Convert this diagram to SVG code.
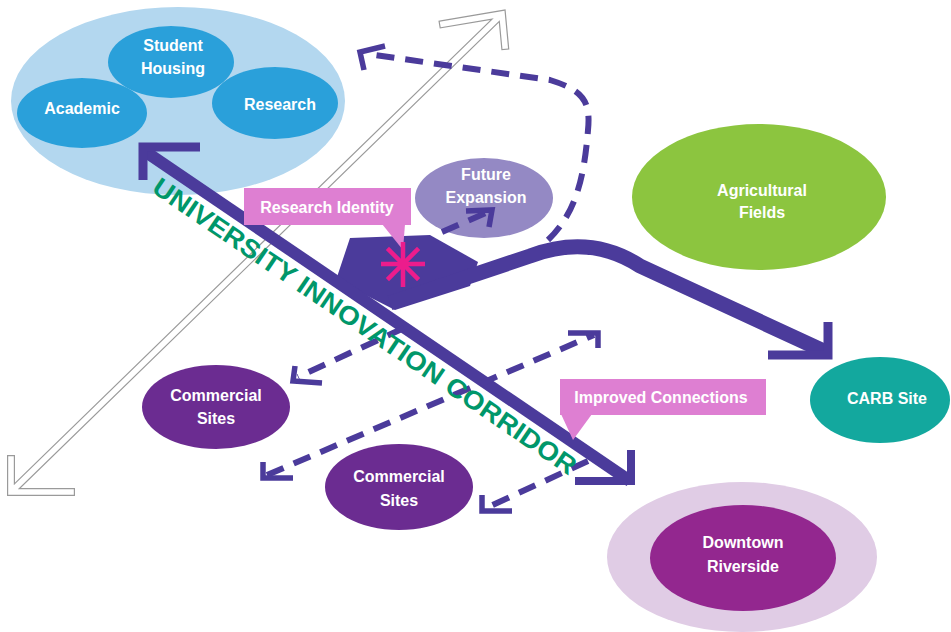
<svg xmlns="http://www.w3.org/2000/svg" width="951" height="632" viewBox="0 0 951 632">
<defs>
<style>
.lbl{font-family:"Liberation Sans",Arial,sans-serif;font-weight:bold;font-size:16px;fill:#ffffff;text-anchor:middle}
.dash{fill:none;stroke:#4B3B9B;stroke-width:6;stroke-dasharray:18 11}
.head{fill:none;stroke:#4B3B9B;stroke-width:5.5;stroke-linejoin:miter;stroke-miterlimit:10}
.solid{fill:none;stroke:#4B3B9B;stroke-linejoin:miter;stroke-miterlimit:10}
.hollow{fill:none;stroke-linejoin:miter;stroke-miterlimit:10;stroke-linecap:square}
</style>
</defs>
<rect width="951" height="632" fill="#ffffff"/>

<g id="campus">
<ellipse cx="178" cy="101" rx="167" ry="94" fill="#B3D7EF"/>
<g id="student-housing"><ellipse cx="171" cy="62" rx="63" ry="36" fill="#2AA0DA"/><text class="lbl" x="173" y="51">Student</text><text class="lbl" x="173" y="74">Housing</text></g>
<g id="academic"><ellipse cx="82" cy="113" rx="65" ry="35" fill="#2AA0DA"/><text class="lbl" x="82" y="114">Academic</text></g>
<g id="research"><ellipse cx="275" cy="103" rx="63" ry="36" fill="#2AA0DA"/><text class="lbl" x="280" y="110">Research</text></g>
</g>

<g id="hollow-arrow">
<path class="hollow" d="M11,459 L11,492 L71,492 M15,488 L498,18 M443,24 L502,14 L505,46" stroke="#9a9a9a" stroke-width="8"/>
<path class="hollow" d="M11,459 L11,492 L71,492 M15,488 L498,18 M443,24 L502,14 L505,46" stroke="#ffffff" stroke-width="5.6"/>
</g>

<g id="future-expansion"><ellipse cx="484" cy="198" rx="69" ry="40" fill="#9489C4"/><text class="lbl" x="486" y="180">Future</text><text class="lbl" x="486" y="203">Expansion</text></g>
<g id="agricultural-fields"><ellipse cx="759" cy="197" rx="127" ry="73" fill="#8CC53F"/><text class="lbl" x="762" y="196">Agricultural</text><text class="lbl" x="762" y="218">Fields</text></g>
<g id="carb-site"><ellipse cx="880" cy="400" rx="70" ry="43" fill="#13A89E"/><text class="lbl" x="887" y="404">CARB Site</text></g>
<g id="commercial-sites-1"><ellipse cx="216" cy="407" rx="74" ry="42" fill="#6B2C91"/><text class="lbl" x="216" y="401">Commercial</text><text class="lbl" x="216" y="424">Sites</text></g>
<g id="commercial-sites-2"><ellipse cx="399" cy="487" rx="74" ry="43" fill="#6B2C91"/><text class="lbl" x="399" y="482">Commercial</text><text class="lbl" x="399" y="506">Sites</text></g>
<g id="downtown-riverside"><ellipse cx="742" cy="557" rx="135" ry="75" fill="#E0CCE5"/><ellipse cx="743" cy="558" rx="93" ry="53" fill="#93278F"/><text class="lbl" x="743" y="548">Downtown</text><text class="lbl" x="743" y="572">Riverside</text></g>

<g id="connectors">
<polygon points="350,238 430,235 478,262 470,286 395,310 336,280" fill="#4B3B9B"/>
<path class="solid" d="M390,303 L530,256 C562,244 600,240 640,266 L826,352" stroke-width="15"/>
<path class="solid" d="M768,355 L828,355 L828,322" stroke-width="9"/>
<path class="solid" d="M143,150 L630,481" stroke-width="12"/>
<path class="solid" d="M200,147 L143,147 L143,180" stroke-width="9"/>
<path class="solid" d="M575,481 L631,481 L631,450" stroke-width="8"/>

<path class="dash" d="M548,240 C575,214 584,180 588,130 C591,100 582,90 550,80 L368,54"/>
<path class="head" d="M385,46 L360,52 L364,70"/>
<path class="dash" d="M442,232 L488,212" stroke-dasharray="12 8" stroke-width="5"/>
<path class="head" d="M466,211 L492,210 L489,227"/>

<path class="dash" d="M404,328 L298,377"/>
<path class="head" d="M295,366 L293,381 L322,383"/>
<path class="dash" d="M267,475 L594,335"/>
<path class="head" d="M263,462 L263,478 L293,478"/>
<path class="head" d="M568,333 L598,333 L598,348"/>
<path class="dash" d="M588,461 L486,508"/>
<path class="head" d="M482,495 L482,511 L512,511"/>
</g>

<g id="research-identity">
<rect x="244" y="188" width="167" height="37" fill="#DE7FD2"/>
<polygon points="382,224 405,224 403,250" fill="#DE7FD2"/>
<text class="lbl" x="327" y="213" font-size="15">Research Identity</text>
</g>
<g id="star" stroke="#EC1C8C" stroke-width="4.5" stroke-linecap="butt">
<line x1="381" y1="264" x2="425" y2="264"/>
<line x1="403" y1="242" x2="403" y2="287"/>
<line x1="387.4" y1="248.4" x2="418.6" y2="279.6"/>
<line x1="418.6" y1="248.4" x2="387.4" y2="279.6"/>
</g>
<g id="improved-connections">
<rect x="560" y="379" width="206" height="36" fill="#DE7FD2"/>
<polygon points="561,414 592,414 573,440" fill="#DE7FD2"/>
<text class="lbl" x="661" y="403" font-size="15">Improved Connections</text>
</g>

<g id="corridor-label">
<text transform="translate(140,148) rotate(34.2)" x="33" y="30" textLength="506" lengthAdjust="spacingAndGlyphs" font-family="Liberation Sans, Arial, sans-serif" font-weight="bold" font-size="26" fill="#00976A">UNIVERSITY INNOVATION CORRIDOR</text>
</g>
</svg>
